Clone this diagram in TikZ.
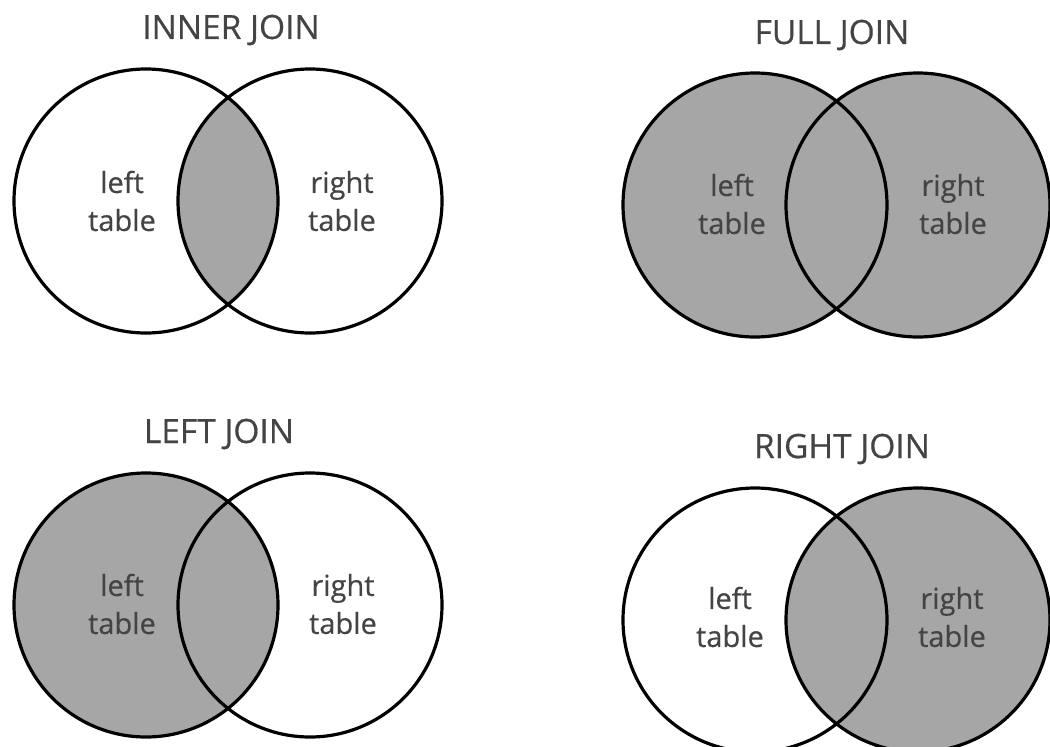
\documentclass[tikz,border=0pt]{standalone}
\usepackage{fontspec}
\setmainfont{Open Sans}[FakeBold=0.4]
\definecolor{ink}{HTML}{444444}
\definecolor{joingray}{HTML}{A6A6A6}
\begin{document}
\begin{tikzpicture}[x=1pt,y=-1pt,
  ring/.style={draw=black,line width=3.2pt},
  title/.style={text=ink,font=\fontsize{33.5}{36}\selectfont,inner sep=0pt},
  label/.style={text=ink,font=\fontsize{29}{38}\selectfont,align=center,inner sep=0pt}]
\clip (0,0) rectangle (1050,747);
\def\r{132}

% ---- INNER JOIN ----
\begin{scope}
  \clip (146,201) circle (\r);
  \fill[joingray] (310,201) circle (\r);
\end{scope}
\draw[ring] (146,201) circle (\r) (310,201) circle (\r);
\node[title] (innerT) at (231,30) {INNER JOIN};
\node[label] (innerL) at (122,201) {left\\table};
\node[label] (innerR) at (342,201) {right\\table};

% ---- FULL JOIN ----
\fill[joingray] (755,205) circle (\r) (918,205) circle (\r);
\draw[ring] (755,205) circle (\r) (918,205) circle (\r);
\node[title] (fullT) at (832,35) {FULL JOIN};
\node[label] (fullL) at (732,204) {left\\table};
\node[label] (fullR) at (953,204) {right\\table};

% ---- LEFT JOIN ----
\fill[joingray] (146,605) circle (\r);
\draw[ring] (146,605) circle (\r) (310,605) circle (\r);
\node[title] (leftT) at (219,434) {LEFT JOIN};
\node[label] (leftL) at (122,604) {left\\table};
\node[label] (leftR) at (343,604) {right\\table};

% ---- RIGHT JOIN ----
\fill[joingray] (918,620) circle (\r);
\draw[ring] (755,620) circle (\r) (918,620) circle (\r);
\node[title] (rightT) at (842,449) {RIGHT JOIN};
\node[label] (rightL) at (730,617) {left\\table};
\node[label] (rightR) at (952,617) {right\\table};
\end{tikzpicture}
\end{document}
